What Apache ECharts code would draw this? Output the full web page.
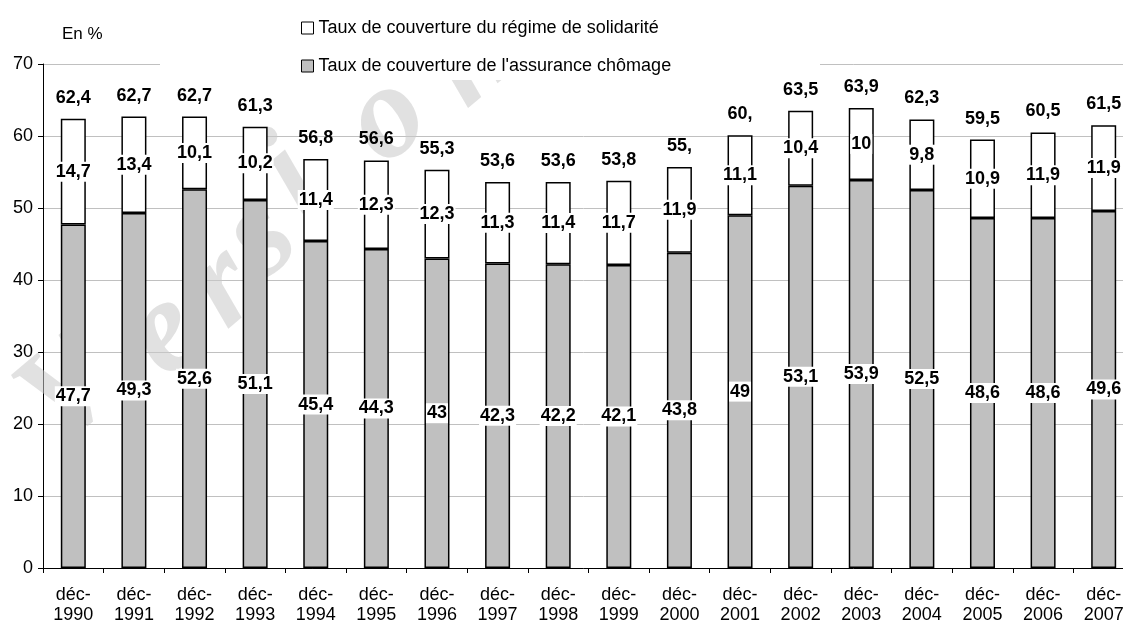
<!DOCTYPE html>
<html>
<head>
<meta charset="utf-8">
<script src="https://cdn.jsdelivr.net/npm/echarts@6/dist/echarts.min.js"></script>
<style>
    html, body { margin: 0; padding: 0; background: #fff; }
    #chart { width: 1123px; height: 624px; }
</style>
</head>
<body>
<div id="chart"></div>
<script>
    // catégories (années)
    var categories = ['déc-\n1990', 'déc-\n1991', 'déc-\n1992', 'déc-\n1993', 'déc-\n1994', 'déc-\n1995',
        'déc-\n1996', 'déc-\n1997', 'déc-\n1998', 'déc-\n1999', 'déc-\n2000', 'déc-\n2001',
        'déc-\n2002', 'déc-\n2003', 'déc-\n2004', 'déc-\n2005', 'déc-\n2006', 'déc-\n2007'];
    // assurance chômage (gris)
    var assurance = [47.7, 49.3, 52.6, 51.1, 45.4, 44.3, 43, 42.3, 42.2, 42.1, 43.8, 49, 53.1, 53.9, 52.5, 48.6, 48.6, 49.6];
    // régime de solidarité (blanc)
    var solidarite = [14.7, 13.4, 10.1, 10.2, 11.4, 12.3, 12.3, 11.3, 11.4, 11.7, 11.9, 11.1, 10.4, 10, 9.8, 10.9, 11.9, 11.9];
    // total affiché au-dessus des barres
    var totals = [62.4, 62.7, 62.7, 61.3, 56.8, 56.6, 55.3, 53.6, 53.6, 53.8, 55.7, 60.1, 63.5, 63.9, 62.3, 59.5, 60.5, 61.5];
    var totalLabels = ['62,4', '62,7', '62,7', '61,3', '56,8', '56,6', '55,3', '53,6', '53,6', '53,8', '55,', '60,',
        '63,5', '63,9', '62,3', '59,5', '60,5', '61,5'];

    var FONT = '"Liberation Sans", Arial, sans-serif';
    var nomSolidarite = 'Taux de couverture du régime de solidarité';
    var nomAssurance = "Taux de couverture de l'assurance chômage";

    function virgule(v) {
        return String(v).replace('.', ',');
    }

    // filigrane "Version" (lettres espacées, en diagonale)
    var filigrane = [
        { c: 'V', x: 72, y: 392 },
        { c: 'e', x: 166, y: 335 },
        { c: 'r', x: 224, y: 288 },
        { c: 's', x: 262, y: 238 },
        { c: 'i', x: 292, y: 178 },
        { c: 'o', x: 388, y: 120 },
        { c: 'n', x: 472, y: 60 }
    ].map(function (l) {
        return {
            type: 'text',
            x: l.x, y: l.y,
            rotation: 0.7,
            z: 1,
            silent: true,
            style: {
                text: l.c,
                font: 'italic bold 132px "Liberation Serif", serif',
                fill: 'rgba(200,200,200,0.55)',
                textAlign: 'center',
                textVerticalAlign: 'middle'
            }
        };
    });

    var labelInside = {
        show: true,
        position: 'inside',
        fontFamily: FONT,
        fontSize: 18,
        fontWeight: 'bold',
        color: '#000',
        backgroundColor: '#fff',
        padding: [1, 1],
        formatter: function (p) { return virgule(p.value); }
    };

    var myChart = echarts.init(document.getElementById('chart'));
    myChart.setOption({
        animation: false,
        backgroundColor: '#fff',
        grid: {
            left: 43,
            top: 64,
            width: 1091,
            height: 504,
            containLabel: false,
            outerBoundsMode: 'none'
        },
        legend: {
            orient: 'vertical',
            left: 296,
            top: 13,
            icon: 'rect',
            itemWidth: 12,
            itemHeight: 12,
            itemGap: 18,
            textStyle: { fontFamily: FONT, fontSize: 18, color: '#000', lineHeight: 20 },
            data: [
                { name: nomSolidarite, itemStyle: { color: '#fff', borderColor: '#000', borderWidth: 1 } },
                { name: nomAssurance, itemStyle: { color: '#c0c0c0', borderColor: '#000', borderWidth: 1 } }
            ]
        },
        graphic: filigrane.concat([
            // fond blanc de la légende
            {
                type: 'rect',
                z: 1.5,
                silent: true,
                shape: { x: 160, y: 0, width: 660, height: 80 },
                style: { fill: '#fff' }
            },
            {
                type: 'text',
                x: 62, y: 34,
                z: 5,
                style: {
                    text: 'En %',
                    font: '17px ' + FONT,
                    fill: '#000',
                    textVerticalAlign: 'middle'
                }
            }
        ]),
        xAxis: {
            type: 'category',
            data: categories,
            axisLine: { lineStyle: { color: '#000', width: 1 } },
            axisTick: { show: true, length: 5, lineStyle: { color: '#000' } },
            axisLabel: {
                interval: 0,
                margin: 17,
                fontFamily: FONT,
                fontSize: 18,
                lineHeight: 20,
                color: '#000'
            }
        },
        yAxis: {
            type: 'value',
            min: 0,
            max: 70,
            interval: 10,
            axisLine: { show: true, lineStyle: { color: '#000', width: 1 } },
            axisTick: { show: true, length: 5, lineStyle: { color: '#000' } },
            axisLabel: { margin: 10, fontFamily: FONT, fontSize: 18, color: '#000' },
            splitLine: { lineStyle: { color: '#c0c0c0', width: 1 } }
        },
        series: [
            {
                name: nomAssurance,
                type: 'bar',
                stack: 'total',
                barWidth: 25,
                barGap: '-100%',
                data: assurance,
                itemStyle: { color: '#c0c0c0', borderColor: '#000', borderWidth: 1.5 },
                label: labelInside
            },
            {
                name: nomSolidarite,
                type: 'bar',
                stack: 'total',
                barWidth: 25,
                barGap: '-100%',
                data: solidarite,
                itemStyle: { color: '#fff', borderColor: '#000', borderWidth: 1.5 },
                label: labelInside
            },
            {
                name: 'Total',
                type: 'bar',
                barWidth: 25,
                barGap: '-100%',
                data: totals,
                silent: true,
                itemStyle: { color: 'rgba(0,0,0,0)' },
                label: {
                    show: true,
                    position: 'top',
                    distance: 12,
                    fontFamily: FONT,
                    fontSize: 18,
                    fontWeight: 'bold',
                    color: '#000',
                    formatter: function (p) { return totalLabels[p.dataIndex]; }
                }
            }
        ]
    });
</script>
</body>
</html>
